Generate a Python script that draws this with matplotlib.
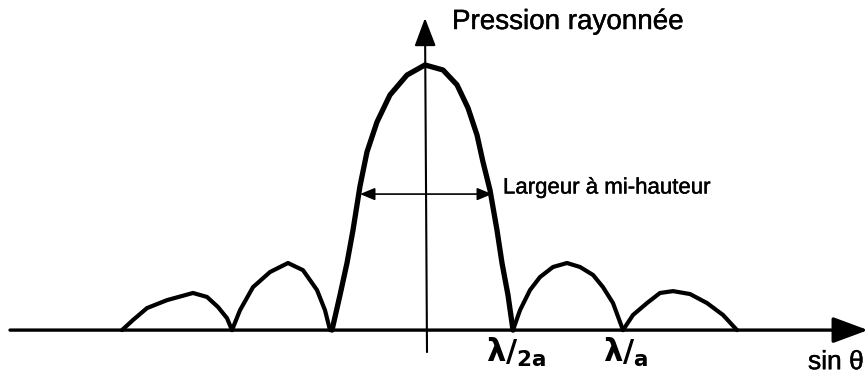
import matplotlib.pyplot as plt
import matplotlib.patheffects as pe

plt.rcParams['font.family'] = ['Liberation Sans', 'DejaVu Sans']
plt.rcParams['mathtext.fontset'] = 'custom'
plt.rcParams['mathtext.bf'] = 'DejaVu Sans:bold'
plt.rcParams['mathtext.rm'] = 'DejaVu Sans:bold'
plt.rcParams['mathtext.it'] = 'DejaVu Sans:bold'
plt.rcParams['mathtext.default'] = 'bf'

# lobes: x in sin(theta) units (arbitrary), y = relative pressure
main_x = [-0.95, -0.87, -0.80, -0.74, -0.67, -0.60, -0.50, -0.37, -0.20, -0.02,
          0.16, 0.30, 0.41, 0.50, 0.56, 0.63, 0.70, 0.75, 0.81, 0.86]
main_y = [0.0, 0.132, 0.253, 0.377, 0.543, 0.672, 0.785, 0.887, 0.962, 1.0,
          0.981, 0.925, 0.838, 0.736, 0.634, 0.528, 0.377, 0.253, 0.132, 0.0]

left2_x = [-3.05, -2.94, -2.80, -2.60, -2.34, -2.20, -2.09, -2.00, -1.95]
left2_y = [0.0, 0.038, 0.083, 0.113, 0.140, 0.125, 0.087, 0.045, 0.0]

left1_x = [-1.95, -1.87, -1.74, -1.57, -1.39, -1.24, -1.10, -1.02, -0.97]
left1_y = [0.0, 0.075, 0.162, 0.219, 0.253, 0.226, 0.151, 0.075, 0.0]

right1_x = [0.86, 0.93, 1.03, 1.13, 1.26, 1.40, 1.53, 1.66, 1.76, 1.86, 1.96]
right1_y = [0.0, 0.075, 0.151, 0.200, 0.238, 0.253, 0.238, 0.208, 0.162, 0.102, 0.0]

right2_x = [1.96, 2.06, 2.20, 2.33, 2.46, 2.63, 2.80, 2.96, 3.10]
right2_y = [0.0, 0.057, 0.102, 0.140, 0.147, 0.136, 0.102, 0.057, 0.0]

half_width = [-0.67, 0.65]
half_level = 0.513

zero_labels = [r'$\lambda/_{2a}$', r'$\lambda/_{a}$']
zero_pos = [0.89, 1.99]

fig = plt.figure(figsize=(8.68, 3.81), dpi=100)
ax = fig.add_axes([0, 0, 1, 1])
ax.set_xlim(-4.27, 4.41)
ax.set_ylim(-0.192, 1.245)
ax.axis('off')

# axes with arrows
ax.annotate('', xy=(4.41, 0), xytext=(-4.17, 0),
            arrowprops=dict(arrowstyle='-|>,head_length=1.08,head_width=0.4',
                            mutation_scale=20, lw=2.4, color='black',
                            shrinkA=0, shrinkB=0))
ax.annotate('', xy=(-0.02, 1.177), xytext=(0.0, -0.083),
            arrowprops=dict(arrowstyle='-|>,head_length=0.87,head_width=0.33',
                            mutation_scale=20, lw=1.5, color='black',
                            shrinkA=0, shrinkB=0))

ax.plot(main_x, main_y, color='black', lw=3.8, solid_joinstyle='round', solid_capstyle='round')
for xs, ys in [(left2_x, left2_y), (left1_x, left1_y), (right1_x, right1_y), (right2_x, right2_y)]:
    ax.plot(xs, ys, color='black', lw=3.0, solid_joinstyle='round', solid_capstyle='round')

ax.annotate('', xy=(half_width[1], half_level), xytext=(half_width[0], half_level),
            arrowprops=dict(arrowstyle='<|-|>,head_length=0.6,head_width=0.25',
                            mutation_scale=15, lw=1.2, color='black',
                            shrinkA=0, shrinkB=0))

# thin stroke to mimic the heavier scanned lettering
ink = [pe.withStroke(linewidth=0.3, foreground='black')]
ax.text(0.25, 1.162, 'Pression rayonnée', fontsize=20, va='center', ha='left', path_effects=ink)
ax.text(0.76, 0.536, 'Largeur à mi-hauteur', fontsize=16, va='center', ha='left', path_effects=ink)
ax.text(3.81, -0.121, 'sin θ', fontsize=19, va='center', ha='left', path_effects=ink)
for lab, xp in zip(zero_labels, zero_pos):
    ax.text(xp, -0.085, lab, fontsize=22, va='center', ha='center')

fig.savefig('out.png', dpi=100)
